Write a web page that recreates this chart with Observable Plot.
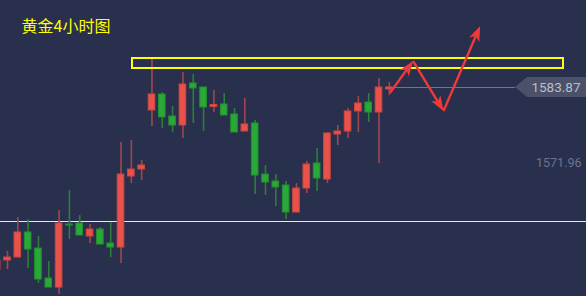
<!DOCTYPE html>
<html>
<head>
<meta charset="utf-8">
<script src="https://cdn.jsdelivr.net/npm/d3@7"></script>
<script src="https://cdn.jsdelivr.net/npm/@observablehq/plot@0.6"></script>
<style>
  html, body { margin: 0; padding: 0; background: #29304d; }
  #chart svg { display: block; }
</style>
</head>
<body>
<div id="chart"></div>
<script>
// Gold, 4-hour candles (index -1 is the bar cut off at the left edge)
const firstIndex = -1;
const open  = [1555.35, 1556.76, 1557.23, 1561.15, 1558.63, 1553.94, 1552.52, 1562.40, 1562.56, 1560.52,
               1561.62, 1559.42, 1558.79, 1569.92, 1571.02, 1580.27, 1582.77, 1579.32, 1577.91, 1584.50,
               1583.87, 1580.82, 1581.21, 1579.64, 1576.97, 1578.23, 1570.23, 1569.14, 1568.51, 1564.28,
               1568.04, 1571.96, 1569.45, 1576.50, 1576.97, 1580.11, 1581.52, 1579.95, 1583.56];
const high  = [1557.23, 1558.17, 1563.50, 1563.18, 1560.52, 1556.60, 1564.59, 1567.73, 1563.81, 1562.40,
               1561.93, 1562.71, 1575.25, 1575.56, 1572.43, 1588.57, 1583.09, 1580.89, 1586.22, 1585.91,
               1583.87, 1583.40, 1582.93, 1580.58, 1582.15, 1578.70, 1571.65, 1570.23, 1569.14, 1568.83,
               1572.27, 1574.31, 1576.82, 1577.91, 1580.58, 1582.46, 1582.93, 1585.28, 1584.65];
const low   = [1555.04, 1555.35, 1557.23, 1555.50, 1553.15, 1552.52, 1551.43, 1560.05, 1560.68, 1559.42,
               1559.26, 1557.23, 1556.29, 1568.83, 1569.30, 1577.76, 1577.44, 1576.82, 1575.88, 1578.23,
               1576.97, 1579.95, 1579.48, 1576.82, 1576.97, 1567.10, 1566.94, 1565.22, 1563.18, 1564.28,
               1567.26, 1567.57, 1568.83, 1574.78, 1575.88, 1576.82, 1578.38, 1571.96, 1582.62];
const close = [1556.76, 1557.23, 1561.15, 1558.48, 1553.78, 1552.52, 1562.56, 1562.24, 1560.68, 1561.62,
               1559.26, 1558.79, 1570.23, 1571.02, 1571.65, 1582.77, 1579.17, 1577.91, 1584.34, 1583.71,
               1580.74, 1581.13, 1579.48, 1576.82, 1578.07, 1570.08, 1568.98, 1568.20, 1564.28, 1568.04,
               1571.80, 1569.61, 1576.66, 1576.97, 1580.11, 1581.36, 1579.95, 1583.87, 1583.87];

// Reference levels and labels
const title = "黄金4小时图";
const lastPrice = 1583.87;
const lowPrice = 1571.96;
const supportLevel = 1562.87;
const zone = {x1: 12.11, x2: 53.88, y1: 1586.85, y2: 1588.41};

// Projected path drawn as red arrows (bar index, price)
const pathX = [37.1, 39.35, 42.3, 45.85];
const pathY = [1582.93, 1587.94, 1580.11, 1593.43];

const candles = open.map((o, k) => ({
  i: firstIndex + k, open: o, high: high[k], low: low[k], close: close[k]
}));

const upBody = "#e8524a", upEdge = "#cf463f", upWick = "#a3454f";
const downBody = "#2aa838", downEdge = "#23902f", downWick = "#2b7f38";
const isUp = d => d.close >= d.open;

function arrows(index, {x, y}) {
  const g = d3.create("svg:g").attr("fill", "#f0393a").attr("stroke", "#f0393a");
  for (let k = 0; k < pathX.length - 1; k++) {
    const x0 = x(pathX[k]), y0 = y(pathY[k]);
    const x1 = x(pathX[k + 1]), y1 = y(pathY[k + 1]);
    const len = Math.hypot(x1 - x0, y1 - y0);
    const ux = (x1 - x0) / len, uy = (y1 - y0) / len;
    const L = 15, W = 5.5;
    const bx = x1 - ux * L, by = y1 - uy * L;
    g.append("line")
      .attr("x1", x0).attr("y1", y0)
      .attr("x2", bx + ux * 4).attr("y2", by + uy * 4)
      .attr("stroke-width", 2.4);
    g.append("path")
      .attr("stroke", "none")
      .attr("d", `M${x1},${y1}L${bx - uy * W},${by + ux * W}L${bx + ux * 4},${by + uy * 4}L${bx + uy * W},${by - ux * W}Z`);
  }
  return g.node();
}

function priceTag(index, {y}, values, {width}) {
  const yy = y(lastPrice);
  const tip = width - 71, left = width - 59;
  return d3.create("svg:path")
    .attr("fill", "#4b5169")
    .attr("d", `M${tip},${yy}L${left},${yy - 10}H${width}V${yy + 10}H${left}Z`)
    .node();
}

const chart = Plot.plot({
  width: 586,
  height: 296,
  margin: 0,
  style: {background: "#29304d"},
  x: {type: "linear", domain: [-0.678, 56.105], axis: null},
  y: {domain: [1551.12, 1597.50], axis: null},
  marks: [
    Plot.ruleY([supportLevel], {stroke: "#efecc2", strokeWidth: 1, shapeRendering: "crispEdges"}),
    Plot.ruleX(candles, {
      x: "i", y1: "low", y2: "high",
      stroke: d => isUp(d) ? upWick : downWick, strokeWidth: 1.6
    }),
    Plot.rect(candles, {
      x1: d => d.i - 0.32, x2: d => d.i + 0.32, y1: "open", y2: "close",
      fill: d => isUp(d) ? upBody : downBody,
      stroke: d => isUp(d) ? upEdge : downEdge, strokeWidth: 1
    }),
    Plot.rect([zone], {
      x1: "x1", x2: "x2", y1: "y1", y2: "y2",
      fill: "none", stroke: "#ffff00", strokeWidth: 1.2, shapeRendering: "crispEdges"
    }),
    Plot.ruleY([lastPrice], {x1: 37.1, x2: 49.2, stroke: "#6f758c", strokeWidth: 1, shapeRendering: "crispEdges"}),
    priceTag,
    Plot.text([lastPrice], {
      y: d => d, text: d => d.toFixed(2), frameAnchor: "right", dx: -6,
      textAnchor: "end", fill: "#b9bdca", fontSize: 13.5, fontFamily: "Roboto"
    }),
    Plot.text([lowPrice], {
      y: d => d, text: d => d.toFixed(2), frameAnchor: "right", dx: -5,
      textAnchor: "end", fill: "#6d7390", fontSize: 12.5, fontFamily: "Roboto"
    }),
    arrows,
    Plot.text([title], {
      text: d => d, frameAnchor: "top-left", dx: 21, dy: 20,
      textAnchor: "start", fill: "#ffff00", fontSize: 16,
      fontFamily: "Noto Sans CJK SC"
    })
  ]
});

document.getElementById("chart").append(chart);
</script>
</body>
</html>
